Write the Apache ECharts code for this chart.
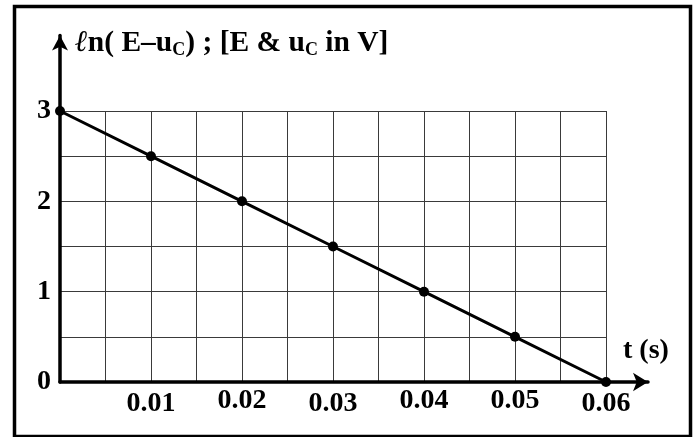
<!DOCTYPE html>
<html>
<head>
<meta charset="utf-8">
<script src="https://cdn.jsdelivr.net/npm/echarts@6/dist/echarts.min.js"></script>
<style>
html,body{margin:0;padding:0;background:#fff;}
#chart{width:695px;height:437px;}
</style>
</head>
<body>
<div id="chart"></div>
<script>
// ---- data ----
const tValues = [0, 0.01, 0.02, 0.03, 0.04, 0.05, 0.06];
const lnValues = [3, 2.5, 2, 1.5, 1, 0.5, 0];
const xTickLabels = ['0.01', '0.02', '0.03', '0.04', '0.05', '0.06'];
const yTickLabels = ['0', '1', '2', '3'];
const xTickValues = [0.01, 0.02, 0.03, 0.04, 0.05, 0.06];
const yTickValues = [0, 1, 2, 3];
const titleParts = ['\u2113', 'n( E\u2013u', 'C', ') ; [E & u', 'C', ' in V]'];
const xAxisTitle = 't (s)';

// ---- chart ----
const FONT = '"Liberation Serif", "Times New Roman", serif';
const chart = echarts.init(document.getElementById('chart'), null, {renderer: 'canvas'});
const lowLabels = {'0.01': true, '0.03': true, '0.06': true};

function xFmt(v) {
  for (let i = 0; i < xTickValues.length; i++) {
    if (Math.abs(v - xTickValues[i]) < 1e-9) {
      const s = xTickLabels[i];
      return lowLabels[s] ? '{lo|' + s + '}' : '{hi|' + s + '}';
    }
  }
  return '';
}
function yFmt(v) {
  for (let i = 0; i < yTickValues.length; i++) {
    if (Math.abs(v - yTickValues[i]) < 1e-9) return yTickLabels[i];
  }
  return '';
}

const option = {
  animation: false,
  backgroundColor: '#fff',
  title: {
    text: '{a|' + titleParts[0] + '}{b|' + titleParts[1] + '}{s|' + titleParts[2] + '}{b|' + titleParts[3] + '}{s|' + titleParts[4] + '}{b|' + titleParts[5] + '}',
    left: 75,
    top: 27,
    padding: 0,
    textStyle: {
      rich: {
        a: {fontFamily: FONT, fontSize: 30, fontWeight: 'bold', fontStyle: 'italic', color: '#000', lineHeight: 32},
        b: {fontFamily: FONT, fontSize: 29.5, fontWeight: 'bold', color: '#000', lineHeight: 32},
        s: {fontFamily: FONT, fontSize: 18, fontWeight: 'bold', color: '#000', lineHeight: 20, verticalAlign: 'bottom'}
      }
    }
  },
  grid: [
    {left: 60, top: 35.5, width: 588, height: 346.5},
    {left: 60, top: 111, width: 546, height: 271}
  ],
  xAxis: [
    {
      gridIndex: 0, type: 'value', min: 0, max: 1, z: 5,
      axisLine: {show: true, symbol: ['none', 'arrow'], symbolSize: [14, 15], lineStyle: {color: '#000', width: 3.5}},
      axisTick: {show: false}, axisLabel: {show: false}, splitLine: {show: false}
    },
    {
      gridIndex: 1, type: 'value', min: 0, max: 0.06, interval: 0.005,
      axisLine: {show: false}, axisTick: {show: false},
      splitLine: {show: true, lineStyle: {color: '#3a3a3a', width: 1}},
      axisLabel: {
        show: true, margin: 5, formatter: xFmt, showMinLabel: true, showMaxLabel: true,
        rich: {
          lo: {fontFamily: FONT, fontSize: 28, fontWeight: 'bold', color: '#000', padding: [3, 0, 0, 0]},
          hi: {fontFamily: FONT, fontSize: 28, fontWeight: 'bold', color: '#000', padding: [0, 0, 3, 0]}
        }
      }
    }
  ],
  yAxis: [
    {
      gridIndex: 0, type: 'value', min: 0, max: 1, z: 5,
      axisLine: {show: true, symbol: ['none', 'arrow'], symbolSize: [12, 15], lineStyle: {color: '#000', width: 3.5}},
      axisTick: {show: false}, axisLabel: {show: false}, splitLine: {show: false}
    },
    {
      gridIndex: 1, type: 'value', min: 0, max: 3, interval: 0.5,
      axisLine: {show: false}, axisTick: {show: false},
      splitLine: {show: true, lineStyle: {color: '#3a3a3a', width: 1}},
      axisLabel: {
        show: true, margin: 9, formatter: yFmt,
        fontFamily: FONT, fontSize: 28, fontWeight: 'bold', color: '#000'
      }
    }
  ],
  series: [
    {
      type: 'line',
      xAxisIndex: 1, yAxisIndex: 1,
      data: tValues.map((t, i) => [t, lnValues[i]]),
      symbol: 'circle', symbolSize: 10,
      itemStyle: {color: '#000'},
      lineStyle: {color: '#000', width: 3},
      z: 10
    }
  ],
  graphic: [
    {
      type: 'rect', left: 12, top: 4, z: 100,
      shape: {x: 0, y: 0, width: 676, height: 430},
      style: {fill: 'none', stroke: '#000', lineWidth: 3.5}
    },
    {
      type: 'text', left: 623, top: 337, z: 100,
      style: {text: xAxisTitle, font: 'bold 28px ' + FONT, fill: '#000'}
    }
  ]
};
chart.setOption(option);
</script>
</body>
</html>
